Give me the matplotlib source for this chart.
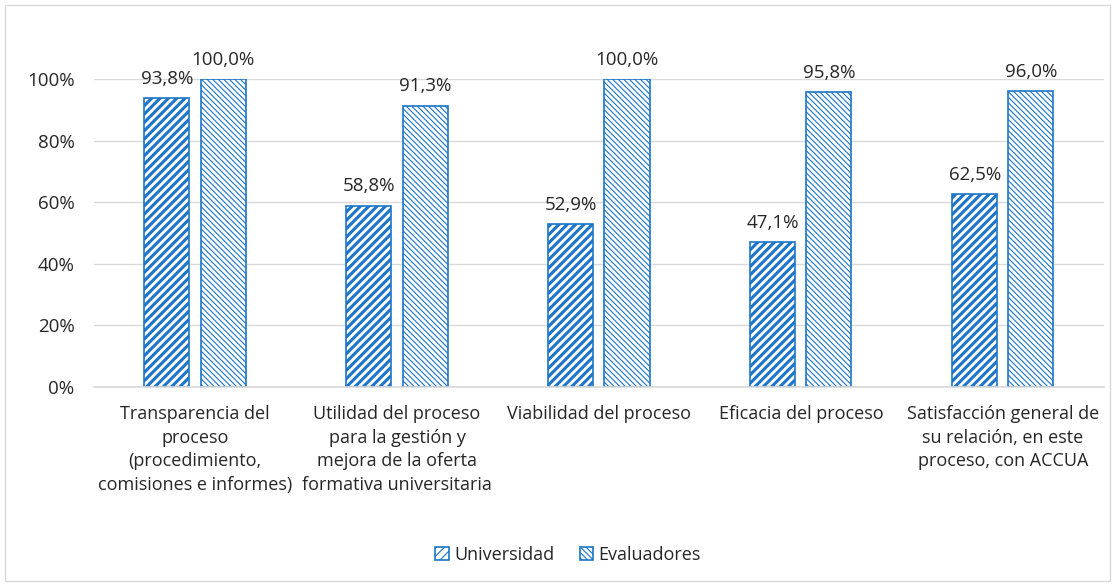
import matplotlib.pyplot as plt
import matplotlib.patches as mpatches
from matplotlib.ticker import PercentFormatter
import numpy as np

# Data
categories = ['Transparencia del\nproceso\n(procedimiento,\ncomisiones e informes)',
              'Utilidad del proceso\npara la gestión y\nmejora de la oferta\nformativa universitaria',
              'Viabilidad del proceso',
              'Eficacia del proceso',
              'Satisfacción general de\nsu relación, en este\nproceso, con ACCUA']
universidad = [0.938, 0.588, 0.529, 0.471, 0.625]
evaluadores = [1.000, 0.913, 1.000, 0.958, 0.960]
series_names = ['Universidad', 'Evaluadores']

blue = '#1C75C8'
text_color = '#262626'
fs = 13
fs_num = 13.5

plt.rcParams['font.family'] = ['Open Sans', 'DejaVu Sans']

fig = plt.figure(figsize=(11.15, 5.86), dpi=100)
ax = fig.add_axes([0.0843, 0.3396, 0.9057, 0.5256])

x = np.arange(len(categories))
w = 0.223
off = 0.139

plt.rcParams['hatch.linewidth'] = 2.2
b1 = ax.bar(x - off, universidad, w, facecolor='white', edgecolor=blue, linewidth=1.2,
            hatch='////', label=series_names[0], zorder=3)
plt.rcParams['hatch.linewidth'] = 0.8
b2 = ax.bar(x + off, evaluadores, w, facecolor='white', edgecolor=blue, linewidth=1.2,
            hatch='\\' * 6, label=series_names[1], zorder=3)
for p in b1:
    if hasattr(p, 'set_hatch_linewidth'):
        p.set_hatch_linewidth(2.2)
for p in b2:
    if hasattr(p, 'set_hatch_linewidth'):
        p.set_hatch_linewidth(0.8)

# Value labels
for bars, vals in [(b1, universidad), (b2, evaluadores)]:
    for p, v in zip(bars, vals):
        ax.annotate(f'{v*100:.1f}%'.replace('.', ','),
                    (p.get_x() + p.get_width() / 2, v), xytext=(0, 7.5),
                    textcoords='offset points', ha='center', va='bottom',
                    fontsize=fs_num, color=text_color, clip_on=False)

ax.set_xlim(-0.5, len(categories) - 0.5)
ax.set_ylim(0, 1.0)
ax.set_yticks(np.arange(0, 1.01, 0.2))
ax.yaxis.set_major_formatter(PercentFormatter(1.0, decimals=0))
ax.set_xticks(x)
ax.set_xticklabels(categories, fontsize=fs, color=text_color, linespacing=1.4)
ax.tick_params(axis='y', length=0, pad=14, labelsize=fs_num, labelcolor=text_color)
ax.tick_params(axis='x', length=0, pad=13)

ax.grid(axis='y', color='#D9D9D9', linewidth=1, zorder=0)
for s in ['top', 'right', 'left']:
    ax.spines[s].set_visible(False)
ax.spines['bottom'].set_color('#D9D9D9')
ax.spines['bottom'].set_linewidth(1.2)
ax.spines['bottom'].set_zorder(4)

leg = fig.legend(handles=[b1, b2], loc='center', bbox_to_anchor=(568 / 1115, 1 - 555 / 586),
                 ncol=2, frameon=False, fontsize=fs, handlelength=0.75, handleheight=0.75,
                 handletextpad=0.3, columnspacing=1.4)
for t in leg.get_texts():
    t.set_color(text_color)

# Chart border
fig.patches.append(mpatches.Rectangle((5 / 1115, 5 / 586), 1105 / 1115, 576 / 586,
                                      transform=fig.transFigure, fill=False,
                                      edgecolor='#D9D9D9', linewidth=1))

fig.savefig('out.png', dpi=100)
